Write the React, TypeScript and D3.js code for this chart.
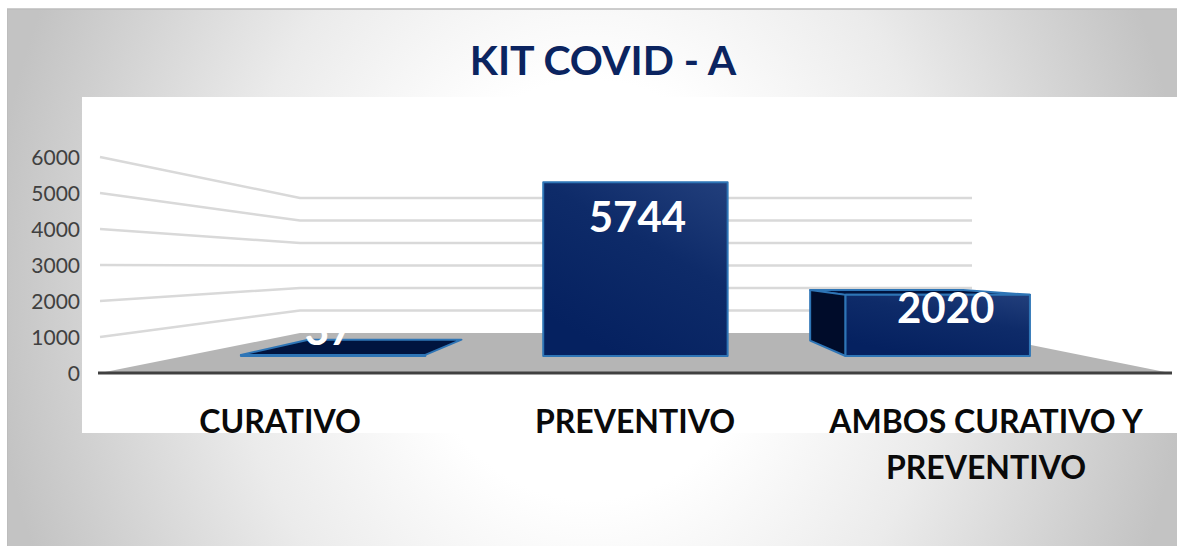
import React from 'react';
import * as d3 from 'd3';

const title = 'KIT COVID - A';
const categories = ['CURATIVO', 'PREVENTIVO', 'AMBOS CURATIVO Y|PREVENTIVO'];
const values = [37, 5744, 2020];
const yTicks = [0, 1000, 2000, 3000, 4000, 5000, 6000];

const width = 1177;
const height = 546;
const font = 'Lato, "Open Sans", sans-serif';

// Fake 3D box: u runs left to right on the floor, t runs front to back
const leftX = d3.scaleLinear().domain([0, 1]).range([100, 300]);
const rightX = d3.scaleLinear().domain([0, 1]).range([1170, 972]);
const floorY = d3.scaleLinear().domain([0, 1]).range([373, 333]);
const unitH = d3.scaleLinear().domain([0, 1]).range([36 / 1000, 22.5 / 1000]);

const project = (u: number, t: number, v: number): [number, number] => [
  leftX(t) + u * (rightX(t) - leftX(t)),
  floorY(t) - v * unitH(t),
];

const band = d3.scaleBand<string>()
  .domain(categories)
  .range([0, 1])
  .paddingInner(0.39)
  .paddingOuter(0.185);

const barFront = 0.425;
const barBack = 0.81;

const poly = (pts: [number, number][]) => d3.line()(pts) + 'Z';

export default function App() {
  const w = band.bandwidth();
  return (
    <svg width={width} height={height} style={{ position: 'absolute', left: 0, top: 0 }}>
      <defs>
        <radialGradient
          id="bg"
          gradientUnits="userSpaceOnUse"
          cx={0}
          cy={0}
          r={1}
          gradientTransform="translate(590 290) scale(600 700)"
        >
          <stop offset="0.3" stopColor="#ffffff" />
          <stop offset="0.6" stopColor="#ebebeb" />
          <stop offset="1" stopColor="#c3c3c3" />
        </radialGradient>
        <linearGradient id="barFill" x1="1" y1="0" x2="0.4" y2="1">
          <stop offset="0" stopColor="#223f7c" />
          <stop offset="0.45" stopColor="#0e2b69" />
          <stop offset="1" stopColor="#052160" />
        </linearGradient>
      </defs>

      <rect x={0} y={0} width={width} height={height} fill="#fff" />
      <rect x={7} y={9} width={width - 7} height={height - 9} fill="url(#bg)" />
      <line x1={7} x2={width} y1={9} y2={9} stroke="#bdbdbd" strokeWidth={1.5} />
      <line x1={7.5} x2={7.5} y1={9} y2={height} stroke="#bdbdbd" strokeWidth={1} />
      <rect x={82} y={97} width={width - 82} height={336} fill="#fff" />

      <text x={603} y={75} textAnchor="middle" fontFamily={font} fontWeight={700} fontSize={41} fill="#0b2460">
        {title}
      </text>

      {/* floor */}
      <path d={poly([project(0, 0, 0), project(0, 1, 0), project(1, 1, 0), project(1, 0, 0)])} fill="#b5b5b5" />

      {/* gridlines on the side and back walls */}
      {yTicks.slice(1).map(v => (
        <path
          key={v}
          d={d3.line()([project(0, 0, v), project(0, 1, v), project(1, 1, v)]) || ''}
          fill="none"
          stroke="#d9d9d9"
          strokeWidth={2.5}
        />
      ))}

      <line x1={leftX(0) - 2} x2={rightX(0) + 2} y1={floorY(0)} y2={floorY(0)} stroke="#404040" strokeWidth={3} />

      {yTicks.map(v => (
        <text key={v} x={80} y={project(0, 0, v)[1] + 8} textAnchor="end" fontFamily={font} fontSize={21} fill="#404040">
          {v}
        </text>
      ))}

      {categories.map((c, i) => {
        const u0 = band(c) as number;
        const u1 = u0 + w;
        const v = values[i];
        const front: [number, number][] = [project(u0, barFront, 0), project(u1, barFront, 0), project(u1, barFront, v), project(u0, barFront, v)];
        const top: [number, number][] = [project(u0, barFront, v), project(u1, barFront, v), project(u1, barBack, v), project(u0, barBack, v)];
        const side: [number, number][] = [project(u0, barFront, 0), project(u0, barBack, 0), project(u0, barBack, v), project(u0, barFront, v)];
        const showSide = project(u0, barBack, 0)[0] < project(u0, barFront, 0)[0];
        const showTop = v < 3000;
        return (
          <g key={c} stroke="#2e75b6" strokeWidth={2} strokeLinejoin="round">
            {showTop && <path d={poly(top)} fill="#00143f" />}
            {showSide && <path d={poly(side)} fill="#000c2a" />}
            <path d={poly(front)} fill="url(#barFill)" />
          </g>
        );
      })}

      {categories.map((c, i) => {
        const [bx] = project((band(c) as number) + w / 2, barFront, 0);
        const labelY = [345, 232, 323][i];
        const labelX = [bx - 4, bx + 2, bx + 8][i];
        return (
          <text key={c} x={labelX} y={labelY} textAnchor="middle" fontFamily={font} fontWeight={700} fontSize={42} fill="#fff">
            {values[i]}
          </text>
        );
      })}

      {categories.map((c, i) => {
        const cx = [280, 635, 986][i];
        return c.split('|').map((line, j) => (
          <text key={line} x={cx} y={433 + j * 46} textAnchor="middle" fontFamily={font} fontWeight={700} fontSize={32} fill="#0a0a0a">
            {line}
          </text>
        ));
      })}
    </svg>
  );
}
